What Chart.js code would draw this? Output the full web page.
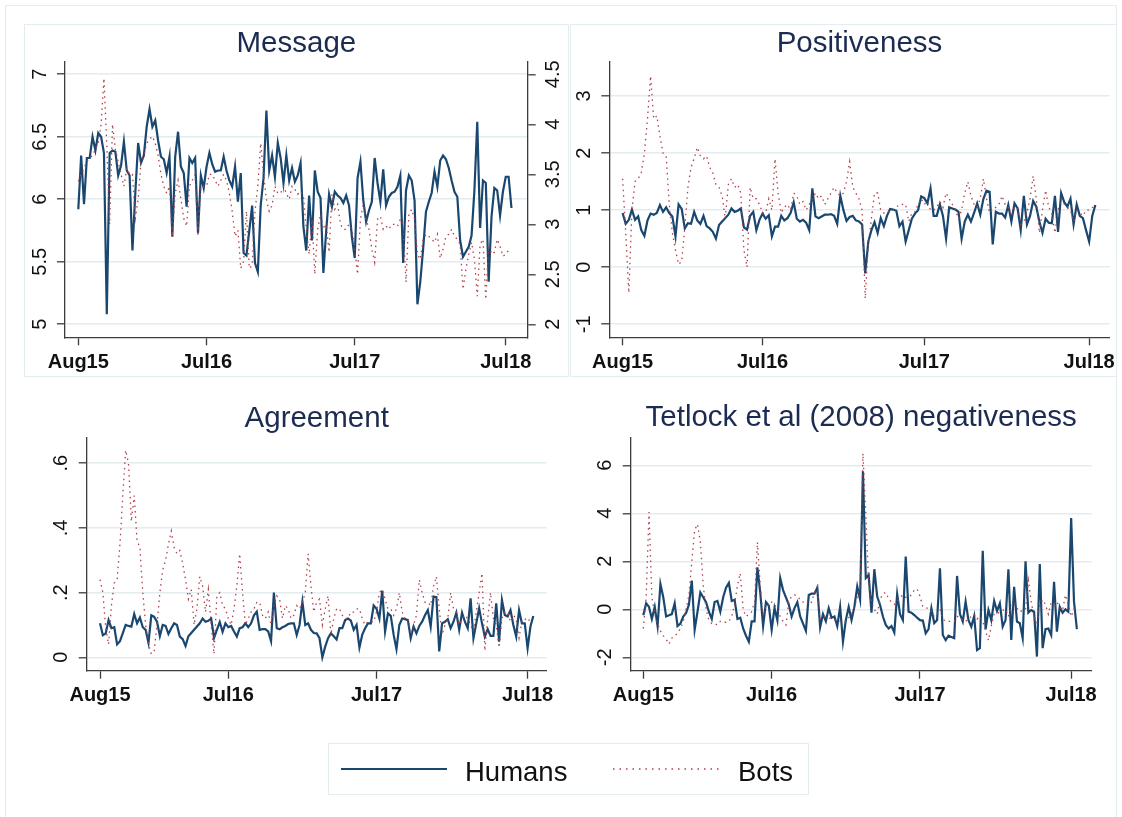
<!DOCTYPE html>
<html>
<head>
<meta charset="utf-8">
<script src="https://cdn.jsdelivr.net/npm/chart.js@4.4.0/dist/chart.umd.min.js"></script>
<style>
  body { margin: 0; background: #fff; width: 1122px; height: 817px; position: relative; overflow: hidden;
         font-family: "Liberation Sans", Arial, sans-serif; }
  .frame { position: absolute; border: 1.5px solid #e3ecef; box-sizing: border-box; }
  canvas { position: absolute; }
  .lg { position: absolute; font-size: 27.5px; line-height: 1; color: #111; white-space: nowrap; }
</style>
</head>
<body>
<div class="frame" style="left:5px;top:5px;width:1112px;height:830px"></div>
<div class="frame" style="left:24px;top:24px;width:545px;height:353px"></div>
<div class="frame" style="left:570px;top:24px;width:547px;height:353px"></div>

<canvas id="c1" width="541" height="350" style="left:25px;top:25px"></canvas>
<canvas id="c2" width="549" height="350" style="left:571px;top:25px"></canvas>
<canvas id="c3" width="541" height="330" style="left:25px;top:385px"></canvas>
<canvas id="c4" width="549" height="330" style="left:571px;top:385px"></canvas>

<div class="frame" style="left:328px;top:743px;width:481px;height:52px"></div>
<svg style="position:absolute;left:0;top:0" width="1122" height="817">
  <line x1="341" y1="769" x2="447" y2="769" stroke="#1a476f" stroke-width="2.2"/>
  <line x1="613" y1="769" x2="720" y2="769" stroke="#b0404a" stroke-width="1.3" stroke-dasharray="1.5 5"/>
</svg>
<div class="lg" style="left:465px;top:758px">Humans</div>
<div class="lg" style="left:738px;top:758px">Bots</div>

<script>
// weekly observations, Aug 2015 .. Jul 2018
const xTickWeeks = [0, 45, 97, 150];
const xTickLabels = ["Aug15", "Jul16", "Jul17", "Jul18"];

const msgTicks = [5, 5.5, 6, 6.5, 7];
const msgTickLabels = ["5", "5.5", "6", "6.5", "7"];
const msgTicks2 = [2, 2.5, 3, 3.5, 4, 4.5];
const msgTickLabels2 = ["2", "2.5", "3", "3.5", "4", "4.5"];
const posTicks = [-1, 0, 1, 2, 3];
const posTickLabels = ["-1", "0", "1", "2", "3"];
const agrTicks = [0, 0.2, 0.4, 0.6];
const agrTickLabels = ["0", ".2", ".4", ".6"];
const tetTicks = [-2, 0, 2, 4, 6];
const tetTickLabels = ["-2", "0", "2", "4", "6"];

const titles = ["Message", "Positiveness", "Agreement", "Tetlock et al (2008) negativeness"];

const msgHumans = [5.92,6.35,5.96,6.33,6.33,6.50,6.39,6.53,6.50,6.37,
  5.08,6.37,6.39,6.38,6.19,6.27,6.46,6.23,6.19,5.59,
  6.05,6.45,6.29,6.35,6.58,6.72,6.58,6.63,6.47,6.34,
  6.32,6.21,6.34,5.70,6.34,6.54,6.26,6.21,5.94,6.33,
  6.29,6.33,5.73,6.19,6.09,6.26,6.37,6.28,6.22,6.23,
  6.23,6.34,6.23,6.15,6.10,6.26,5.98,6.21,5.57,5.55,
  5.75,5.95,5.49,5.42,5.95,6.17,6.71,6.23,6.35,6.18,
  6.45,6.33,6.13,6.35,6.15,6.25,
  6.14,6.19,6.29,5.78,5.59,6.03,5.67,6.23,6.06,6.01,
  5.41,5.75,6.04,5.94,6.06,6.03,6.01,5.97,6.03,5.95,
  5.70,5.53,6.17,6.30,5.99,5.82,5.91,5.98,6.33,6.13,
  5.98,6.24,5.95,6.02,6.05,6.06,6.10,6.19,5.49,6.07,
  6.19,6.15,5.99,5.16,5.34,5.60,5.90,5.98,6.05,6.22,
  6.10,6.31,6.35,6.32,6.25,6.15,6.06,6.02,5.67,5.54,
  5.58,5.62,5.71,6.07,6.62,5.77,6.15,6.13,5.34,5.86,
  6.09,6.07,5.87,6.06,6.18,6.18,5.93];
// bots message length is read on the right-hand axis
const msgBots = [3.43,3.50,3.56,3.63,3.66,3.69,3.75,3.81,4.00,4.46,
  3.78,3.00,4.00,3.75,3.63,3.50,3.38,3.56,3.50,3.50,
  3.06,3.25,3.63,3.69,3.81,3.85,3.88,3.81,3.69,3.50,
  3.38,3.31,3.38,2.88,3.31,3.44,3.25,3.06,2.98,3.38,
  3.44,3.50,2.88,3.38,3.38,3.38,3.50,3.50,3.44,3.38,
  3.44,3.50,3.44,3.31,3.13,2.88,2.94,2.56,2.63,3.13,
  2.56,2.59,3.13,3.38,3.81,3.50,3.25,3.13,3.19,3.38,
  3.31,3.31,3.38,3.31,3.25,3.38,
  3.35,3.30,3.33,3.28,2.95,2.70,3.05,2.50,2.95,3.10,
  2.95,3.00,2.72,3.30,3.15,3.20,3.00,2.95,2.95,3.00,
  2.95,2.75,2.50,3.05,3.20,3.05,2.95,2.75,2.62,3.05,
  3.08,2.95,2.98,2.95,3.00,3.00,2.98,3.05,3.00,2.42,
  3.10,3.15,3.05,2.70,2.65,2.85,2.90,2.88,2.85,2.82,
  2.90,2.66,2.75,2.88,2.90,2.95,2.88,2.85,2.80,2.35,
  2.55,2.70,2.82,2.65,2.28,2.80,2.85,2.25,2.80,2.70,
  2.72,2.85,2.78,2.68,2.70,2.74,2.72];

const posHumans = [0.95,0.76,0.83,1.01,0.83,0.89,0.65,0.55,0.82,0.94,
  0.92,0.95,1.09,0.97,1.05,0.95,0.89,0.54,1.10,1.02,
  0.68,0.77,0.76,0.97,0.82,0.76,0.90,0.72,0.68,0.62,
  0.50,0.74,0.80,0.86,0.92,1.03,0.97,0.99,1.03,0.70,
  0.66,0.90,0.97,0.65,0.83,0.94,0.85,0.91,0.54,0.71,
  0.71,0.90,0.82,0.86,0.95,1.14,0.85,0.80,0.83,0.78,
  0.65,1.38,0.89,0.86,0.89,0.92,0.92,0.93,0.90,0.76,
  1.25,1.00,0.81,0.88,0.90,0.82,0.80,0.75,-0.11,0.45,
  0.65,0.79,0.60,0.86,0.72,0.90,1.02,1.01,0.99,0.72,
  0.80,0.45,0.65,0.85,0.94,1.00,1.24,1.21,1.12,1.38,
  0.90,0.90,1.10,0.90,0.50,1.05,1.03,1.01,0.97,0.50,
  0.80,0.92,0.80,0.95,1.12,0.92,1.20,1.34,1.32,0.40,
  0.97,0.94,0.94,0.87,1.09,0.80,1.12,1.03,0.65,1.25,
  0.75,0.90,1.16,1.06,0.80,0.60,0.85,0.78,0.77,1.25,
  0.62,1.30,1.14,1.06,1.20,0.75,1.10,0.90,0.86,0.65,
  0.45,0.90,1.09];
const posBots = [1.55,0.60,-0.45,1.00,1.50,1.55,1.65,2.00,2.60,3.35,
  2.60,2.65,2.30,2.00,1.95,1.10,0.60,0.30,0.05,0.10,
  0.70,1.40,1.75,1.90,2.10,1.95,1.90,1.95,1.75,1.65,
  1.45,1.40,1.25,0.85,1.45,1.55,1.40,1.45,1.30,0.30,
  0.00,1.40,1.20,1.20,1.10,0.95,0.95,1.20,1.00,1.90,
  1.30,0.95,1.05,1.10,1.00,1.30,1.25,1.10,1.15,1.00,
  1.10,1.20,1.30,1.20,1.25,1.10,1.20,1.30,1.40,1.30,
  1.25,1.30,1.50,1.85,1.40,1.30,1.20,1.00,-0.55,0.40,
  0.85,1.30,1.30,1.00,0.95,0.95,1.00,1.00,1.05,1.10,
  1.10,1.10,0.80,0.95,0.97,1.10,1.20,1.10,1.15,1.00,
  1.00,1.05,1.15,1.05,1.30,1.20,1.10,1.00,0.85,1.00,
  1.30,1.50,1.25,1.10,1.05,1.20,1.55,1.20,0.95,1.00,
  1.05,1.10,1.25,1.10,1.05,0.90,1.05,1.05,0.75,0.80,
  0.95,1.20,1.60,1.20,0.60,1.00,1.35,1.05,0.95,0.60,
  1.00,1.20,1.10,1.05,1.00,0.80,1.00,0.95,0.90,1.00,
  1.00,1.05,1.05];

const agrHumans = [0.105,0.068,0.074,0.115,0.090,0.093,0.040,0.050,0.075,0.100,
  0.097,0.095,0.134,0.105,0.123,0.093,0.085,0.045,0.130,0.125,
  0.110,0.066,0.100,0.097,0.072,0.090,0.105,0.100,0.064,0.056,
  0.035,0.065,0.075,0.085,0.095,0.105,0.120,0.110,0.113,0.120,
  0.060,0.085,0.109,0.079,0.105,0.093,0.097,0.080,0.064,0.090,
  0.093,0.105,0.093,0.105,0.130,0.141,0.085,0.087,0.087,0.080,
  0.050,0.200,0.090,0.087,0.093,0.097,0.103,0.105,0.105,0.069,
  0.100,0.172,0.100,0.105,0.085,0.075,0.074,0.059,0.000,0.033,
  0.059,0.074,0.065,0.055,0.090,0.090,0.115,0.120,0.113,0.085,
  0.100,0.030,0.070,0.090,0.105,0.105,0.160,0.150,0.120,0.206,
  0.080,0.136,0.128,0.070,0.025,0.100,0.120,0.118,0.115,0.059,
  0.095,0.074,0.097,0.110,0.130,0.146,0.095,0.188,0.186,0.018,
  0.105,0.110,0.118,0.090,0.110,0.138,0.085,0.138,0.110,0.090,
  0.182,0.059,0.105,0.152,0.105,0.064,0.087,0.066,0.066,0.167,
  0.048,0.177,0.131,0.126,0.146,0.100,0.064,0.146,0.105,0.105,
  0.028,0.095,0.128];
const agrBots = [0.24,0.20,0.09,0.04,0.16,0.23,0.24,0.35,0.50,0.64,
  0.60,0.42,0.50,0.36,0.34,0.20,0.10,0.04,0.01,0.02,
  0.10,0.20,0.27,0.30,0.35,0.39,0.34,0.32,0.33,0.29,
  0.24,0.18,0.21,0.10,0.15,0.25,0.22,0.14,0.21,0.10,
  0.01,0.19,0.20,0.16,0.15,0.12,0.10,0.15,0.22,0.32,
  0.20,0.10,0.12,0.14,0.15,0.17,0.17,0.13,0.12,0.14,
  0.10,0.16,0.19,0.18,0.12,0.16,0.15,0.12,0.13,0.16,
  0.15,0.17,0.20,0.32,0.22,0.14,0.17,0.18,0.10,0.15,
  0.19,0.07,0.12,0.15,0.15,0.13,0.12,0.12,0.14,0.14,
  0.15,0.15,0.12,0.10,0.11,0.11,0.11,0.14,0.20,0.21,
  0.18,0.15,0.15,0.13,0.15,0.20,0.14,0.12,0.12,0.07,
  0.10,0.13,0.24,0.20,0.17,0.17,0.16,0.22,0.25,0.15,
  0.07,0.10,0.12,0.20,0.15,0.14,0.10,0.12,0.13,0.12,
  0.10,0.08,0.14,0.20,0.26,0.02,0.12,0.20,0.12,0.10,
  0.03,0.12,0.14,0.14,0.11,0.13,0.12,0.06,0.11,0.12,
  0.11,0.12,0.12];

const tetHumans = [-0.25,0.25,0.10,-0.40,0.10,-0.70,1.05,0.50,-0.30,-0.25,
  -0.20,0.25,-0.70,-0.60,-0.30,-0.15,0.20,1.20,-0.85,-0.10,
  0.70,0.50,0.30,-0.10,-0.40,0.30,0.35,-0.10,0.50,0.90,
  1.10,0.35,0.40,-0.40,-0.35,-0.80,-1.10,-1.35,-0.50,-0.50,
  1.75,0.70,-0.70,0.30,0.15,-0.85,0.05,-0.45,1.30,0.80,
  0.50,0.20,-0.30,0.05,0.30,-0.30,-0.60,-0.90,0.60,0.65,
  0.65,0.90,-0.75,-0.20,-0.50,0.05,-0.35,-0.30,-0.70,
  0.10,-1.35,-0.45,0.10,-0.45,0.10,0.95,0.40,5.75,1.30,
  1.43,-0.14,1.67,0.53,0.18,-0.30,-0.65,-0.80,-0.70,-0.97,
  0.64,-0.20,-0.45,2.20,-0.10,-0.14,-0.24,-0.35,-0.45,-0.47,
  -1.00,-0.82,0.04,-0.58,-0.45,1.71,-1.07,-1.28,-1.10,-1.15,
  -1.20,1.39,-0.19,-0.51,0.32,-0.45,-0.72,-0.28,-1.70,-1.62,
  2.44,-0.83,-0.03,-0.45,0.35,-0.07,0.25,-0.72,-0.45,1.67,
  -1.28,0.94,-0.51,-0.58,-1.20,2.00,-0.14,-0.03,-0.10,-1.97,
  1.89,-1.62,-0.83,-0.80,-1.07,1.15,-0.93,0.10,-0.14,0.00,
  -0.10,3.80,0.32,-0.83];
const tetBots = [-0.80,0.50,4.05,0.50,-0.20,-0.60,-0.90,-1.10,-1.25,-1.45,
  -1.20,-1.10,-1.00,-0.80,-0.50,0.00,0.60,2.00,3.30,3.55,
  2.80,1.00,0.00,-0.45,-0.60,-0.60,-0.65,-0.50,-0.50,-0.55,
  -0.50,-0.30,0.20,1.00,1.50,0.00,-0.30,-0.20,-0.10,0.30,
  2.80,1.00,-0.30,0.20,0.15,0.30,0.20,0.00,-0.30,-0.50,
  -0.65,0.30,0.55,0.60,0.55,0.40,0.30,0.35,0.20,0.30,
  0.70,0.95,-0.40,-0.30,-0.30,-0.35,-0.40,-0.45,-0.50,
  -0.50,-0.55,-0.50,-0.35,-0.20,0.10,0.50,1.00,6.50,4.00,
  1.00,0.30,0.00,-0.20,0.40,0.65,0.70,0.45,0.30,0.20,
  0.30,0.50,0.60,0.50,0.50,0.60,0.80,0.85,0.55,0.10,
  0.05,0.05,-0.10,-0.30,-0.20,0.00,-0.40,-0.50,-0.50,-0.50,
  -0.50,-0.30,-0.30,-0.45,-0.50,-0.40,-0.30,-0.20,-0.40,-0.30,
  -0.50,-0.90,-1.30,-0.70,-0.20,-0.20,-0.10,-0.05,0.00,-0.30,
  0.10,0.30,0.05,-0.10,-0.05,0.00,1.20,0.30,-0.30,-0.55,
  0.20,0.40,0.20,-0.20,0.30,0.20,0.30,0.10,-0.05,0.60,
  0.20,-0.30,0.00,-0.10];

const weeks = msgHumans.map((_, i) => i);

const FONT = '"Liberation Sans", Arial, sans-serif';
const HUM = '#1a476f';
const BOT = '#b0404a';
const AXIS = '#3c3c3c';
const GRID = '#e3ecef';
const TITLE = '#1c2b52';

// panel title, centred over the plot region
const panelTitle = {
  id: 'panelTitle',
  afterDraw(chart, args, opts) {
    const { ctx, chartArea } = chart;
    ctx.save();
    ctx.font = '29.5px ' + FONT;
    ctx.fillStyle = TITLE;
    ctx.textAlign = 'center';
    ctx.textBaseline = 'alphabetic';
    ctx.fillText(opts.text, (chartArea.left + chartArea.right) / 2, opts.y);
    ctx.restore();
  }
};

// vertical y tick labels (read bottom to top, like Stata)
const yLabels = {
  id: 'yLabels',
  afterDraw(chart, args, opts) {
    const ctx = chart.ctx;
    ctx.save();
    ctx.font = '20px ' + FONT;
    ctx.fillStyle = '#111';
    ctx.textAlign = 'center';
    ctx.textBaseline = 'middle';
    opts.axes.forEach(ax => {
      const sc = chart.scales[ax.id];
      const cx = ax.side === 'left' ? sc.right - ax.gap : sc.left + ax.gap;
      ax.values.forEach((v, i) => {
        ctx.save();
        ctx.translate(cx, sc.getPixelForValue(v));
        ctx.rotate(-Math.PI / 2);
        ctx.fillText(ax.labels[i], 0, 0);
        ctx.restore();
      });
    });
    ctx.restore();
  }
};

function xScale(min, max, h) {
  return {
    type: 'linear', min: min, max: max,
    afterBuildTicks: s => { s.ticks = xTickWeeks.map(v => ({ value: v })); },
    afterFit: s => { s.height = h; },
    ticks: { autoSkip: false, maxRotation: 0, minRotation: 0, padding: 5, color: '#111',
             font: { family: FONT, size: 20, weight: 'bold' },
             callback: (v, i) => xTickLabels[i] },
    grid: { drawOnChartArea: false, drawTicks: true, tickLength: 8, tickColor: AXIS, tickWidth: 1.3 },
    border: { display: true, color: AXIS, width: 1.3 }
  };
}

function yScale(min, max, ticks, w, position, onArea) {
  return {
    type: 'linear', position: position, min: min, max: max,
    afterBuildTicks: s => { s.ticks = ticks.map(v => ({ value: v })); },
    afterFit: s => { s.width = w; },
    ticks: { display: false },
    grid: { drawOnChartArea: onArea, color: GRID, lineWidth: 1.6, drawTicks: true,
            tickLength: 8, tickColor: AXIS, tickWidth: 1.3 },
    border: { display: true, color: AXIS, width: 1.3 }
  };
}

function humansSet(data) {
  return { label: 'Humans', data: data, borderColor: HUM, borderWidth: 2.2,
           pointRadius: 0, tension: 0, fill: false, order: 1 };
}
function botsSet(data, axis) {
  return { label: 'Bots', data: data, borderColor: BOT, borderWidth: 1.3, borderDash: [1.5, 4],
           pointRadius: 0, tension: 0, fill: false, order: 0, yAxisID: axis || 'y' };
}

function makePanel(id, cfg) {
  return new Chart(document.getElementById(id), {
    type: 'line',
    data: { labels: weeks, datasets: cfg.datasets },
    options: {
      responsive: false, animation: false, devicePixelRatio: 1, events: [],
      layout: { padding: { top: cfg.padTop, right: cfg.padRight, left: 0, bottom: 0 } },
      scales: cfg.scales,
      plugins: {
        legend: { display: false }, tooltip: { enabled: false },
        panelTitle: { text: cfg.title, y: cfg.titleY },
        yLabels: { axes: cfg.yAxes }
      }
    },
    plugins: [panelTitle, yLabels]
  });
}

makePanel('c1', {
  title: titles[0], titleY: 27, padTop: 36.7, padRight: 0,
  datasets: [humansSet(msgHumans), botsSet(msgBots, 'y2')],
  scales: {
    x: xScale(-4.67, 157.7, 37.7),
    y: yScale(4.896, 7.1, msgTicks, 40, 'left', true),
    y2: yScale(1.87, 4.626, msgTicks2, 38.3, 'right', false)
  },
  yAxes: [
    { id: 'y', side: 'left', gap: 25, values: msgTicks, labels: msgTickLabels },
    { id: 'y2', side: 'right', gap: 26, values: msgTicks2, labels: msgTickLabels2 }
  ]
});

makePanel('c2', {
  title: titles[1], titleY: 27, padTop: 36.7, padRight: 7,
  datasets: [humansSet(posHumans), botsSet(posBots)],
  scales: {
    x: xScale(-4.28, 156.6, 37.7),
    y: yScale(-1.228, 3.601, posTicks, 38.3, 'left', true)
  },
  yAxes: [{ id: 'y', side: 'left', gap: 25, values: posTicks, labels: posTickLabels }]
});

makePanel('c3', {
  title: titles[2], titleY: 41.7, padTop: 52.7, padRight: 19.3,
  datasets: [humansSet(agrHumans), botsSet(agrBots)],
  scales: {
    x: xScale(-4.67, 156.7, 44.3),
    y: yScale(-0.0414, 0.679, agrTicks, 61.7, 'left', true)
  },
  yAxes: [{ id: 'y', side: 'left', gap: 25, values: agrTicks, labels: agrTickLabels }]
});

makePanel('c4', {
  title: titles[3], titleY: 41, padTop: 52.7, padRight: 28.3,
  datasets: [humansSet(tetHumans), botsSet(tetBots)],
  scales: {
    x: xScale(-4.42, 157.2, 44.3),
    y: yScale(-2.558, 7.15, tetTicks, 59.7, 'left', true)
  },
  yAxes: [{ id: 'y', side: 'left', gap: 25, values: tetTicks, labels: tetTickLabels }]
});
</script>
</body>
</html>
